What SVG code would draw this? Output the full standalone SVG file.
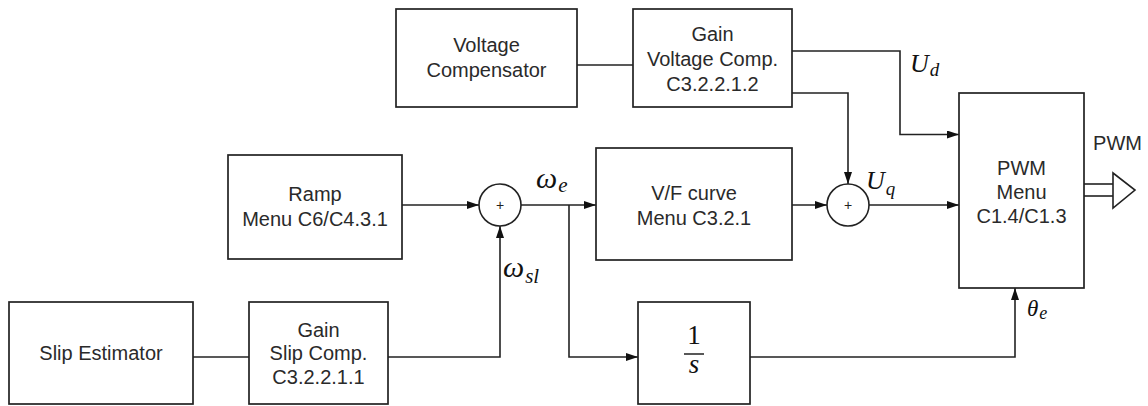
<svg xmlns="http://www.w3.org/2000/svg" width="1148" height="406" viewBox="0 0 1148 406">
<defs>
<style>
.box{fill:#fff;stroke:#222;stroke-width:1.7}
.lbl{font-family:"Liberation Sans",Arial,Helvetica,sans-serif;font-size:20px;fill:#2a2a2a;text-anchor:middle}
.w{stroke:#222;stroke-width:1.6;fill:none}
.m{font-family:"Liberation Serif","DejaVu Serif",serif;font-style:italic;fill:#111}
.plus{font-family:"Liberation Sans",Arial,sans-serif;font-size:14px;fill:#222;text-anchor:middle}
</style>
<marker id="ah" viewBox="0 0 12 8" refX="12" refY="4" markerWidth="12" markerHeight="8" markerUnits="userSpaceOnUse" orient="auto">
<path d="M0,0 L12,4 L0,8 Z" fill="#111"/>
</marker>
</defs>
<rect width="1148" height="406" fill="#fff"/>

<g id="connectors">
<line class="w" x1="577" y1="65" x2="633" y2="65"/>
<polyline class="w" points="792,51 900,51 900,134.5 959,134.5" marker-end="url(#ah)"/>
<polyline class="w" points="792,93 848,93 848,184" marker-end="url(#ah)"/>
<line class="w" x1="402" y1="205" x2="479" y2="205" marker-end="url(#ah)"/>
<line class="w" x1="521" y1="205" x2="596" y2="205" marker-end="url(#ah)"/>
<polyline class="w" points="569,205 569,357 638,357" marker-end="url(#ah)"/>
<line class="w" x1="792" y1="205" x2="827" y2="205" marker-end="url(#ah)"/>
<line class="w" x1="869" y1="205" x2="959" y2="205" marker-end="url(#ah)"/>
<line class="w" x1="193" y1="357" x2="249" y2="357"/>
<polyline class="w" points="388,357 500,357 500,226" marker-end="url(#ah)"/>
<polyline class="w" points="750,357 1015,357 1015,288" marker-end="url(#ah)"/>
<g id="pwm-out">
<line class="w" x1="1084" y1="184" x2="1113" y2="184"/>
<line class="w" x1="1084" y1="196" x2="1113" y2="196"/>
<polygon points="1113,173 1135,190 1113,208" fill="#fff" stroke="#222" stroke-width="1.6"/>
</g>
</g>

<g id="voltage-compensator">
<rect class="box" x="396" y="9" width="181" height="98"/>
<text class="lbl" x="486.5" y="52">Voltage</text>
<text class="lbl" x="486.5" y="77">Compensator</text>
</g>

<g id="gain-voltage">
<rect class="box" x="633" y="9" width="159" height="98"/>
<text class="lbl" x="712.5" y="41">Gain</text>
<text class="lbl" x="712.5" y="66">Voltage Comp.</text>
<text class="lbl" x="712.5" y="91">C3.2.2.1.2</text>
</g>

<g id="ramp">
<rect class="box" x="228" y="155" width="174" height="104"/>
<text class="lbl" x="315" y="201">Ramp</text>
<text class="lbl" x="315" y="226">Menu C6/C4.3.1</text>
</g>

<g id="sum1">
<circle cx="500" cy="205" r="21" fill="#fff" stroke="#222" stroke-width="1.6"/>
<text class="plus" x="500" y="210">+</text>
</g>

<g id="vf-curve">
<rect class="box" x="596" y="148" width="196" height="112"/>
<text class="lbl" x="694" y="200">V/F curve</text>
<text class="lbl" x="694" y="224.5">Menu C3.2.1</text>
</g>

<g id="sum2">
<circle cx="848" cy="205" r="21" fill="#fff" stroke="#222" stroke-width="1.6"/>
<text class="plus" x="848" y="210">+</text>
</g>

<g id="pwm">
<rect class="box" x="959" y="93" width="125" height="195"/>
<text class="lbl" x="1021.5" y="175">PWM</text>
<text class="lbl" x="1021.5" y="199">Menu</text>
<text class="lbl" x="1021.5" y="223">C1.4/C1.3</text>
</g>

<g id="slip-estimator">
<rect class="box" x="9" y="302" width="184" height="102"/>
<text class="lbl" x="101" y="360">Slip Estimator</text>
</g>

<g id="gain-slip">
<rect class="box" x="249" y="302" width="139" height="102"/>
<text class="lbl" x="318.5" y="336.5">Gain</text>
<text class="lbl" x="318.5" y="360">Slip Comp.</text>
<text class="lbl" x="318.5" y="384">C3.2.2.1.1</text>
</g>

<g id="integrator">
<rect class="box" x="638" y="302" width="112" height="102"/>
<text x="694" y="344" font-family="'Liberation Serif','DejaVu Serif',serif" font-size="27" text-anchor="middle" fill="#111">1</text>
<line x1="684" y1="354" x2="704" y2="354" stroke="#111" stroke-width="1.4"/>
<text class="m" x="694" y="373" font-size="27" text-anchor="middle">s</text>
</g>

<g id="labels">
<text class="m" x="536" y="188" font-size="30">ω<tspan font-size="21" dx="1" dy="4">e</tspan></text>
<text class="m" x="503" y="277" font-size="30">ω<tspan font-size="21" dx="1" dy="6">sl</tspan></text>
<text class="m" x="910" y="72" font-size="26">U<tspan font-size="19" dx="1" dy="4">d</tspan></text>
<text class="m" x="866" y="189" font-size="26">U<tspan font-size="19" dx="1" dy="6">q</tspan></text>
<text class="m" x="1027" y="316" font-size="23">θ<tspan font-size="18" dx="1" dy="3">e</tspan></text>
<text class="lbl" x="1117.5" y="150">PWM</text>
</g>
</svg>
